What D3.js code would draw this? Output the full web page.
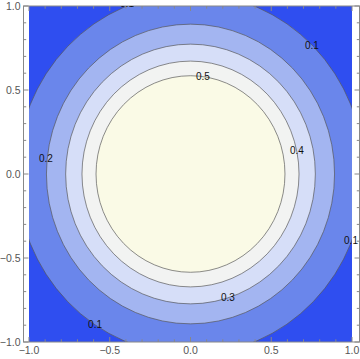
<!DOCTYPE html>
<html>
<head>
<meta charset="utf-8">
<script src="https://cdn.jsdelivr.net/npm/d3@7"></script>
<style>
  body { margin: 0; background: #fff; }
  svg { display: block; }
</style>
</head>
<body>
<div id="chart"></div>
<script>
(function () {
  // contour levels and the radius (data units) where each level sits
  var levels = [0.1, 0.2, 0.3, 0.4, 0.5];
  var radii = [1.075, 0.892, 0.773, 0.672, 0.585];
  // fill colours: below 0.1, then each band up to the top one
  var bandColors = ["#2f4ef0", "#6a86eb", "#a3b5f1", "#d6def8", "#f2f3f2", "#fafae6"];

  // contour labels (level, x, y in data units)
  var labelText = ["0.1", "0.1", "0.5", "0.4", "0.2", "0.1", "0.3", "0.1"];
  var labelX = [-0.393, 0.752, 0.077, 0.659, -0.895, 0.994, 0.232, -0.591];
  var labelY = [1.012, 0.762, 0.583, 0.137, 0.095, -0.393, -0.738, -0.893];

  var majorTicks = [-1.0, -0.5, 0.0, 0.5, 1.0];
  var minorTicks = d3.range(-10, 11).map(function (d) { return d / 10; });

  var w = 360,
      h = 359;

  var x = d3.scaleLinear().domain([-1, 1]).range([29, 352]);
  var y = d3.scaleLinear().domain([-1, 1]).range([342, 6]);

  var frame = { left: 23.5, right: 359.5, top: 6, bottom: 342 };

  var svg = d3.select("#chart")
      .append("svg")
      .attr("width", w)
      .attr("height", h);

  svg.append("clipPath").attr("id", "plotclip")
    .append("rect")
      .attr("x", x(-1)).attr("y", y(1))
      .attr("width", x(1) - x(-1)).attr("height", y(-1) - y(1));

  svg.append("clipPath").attr("id", "frameclip")
    .append("rect")
      .attr("x", frame.left).attr("y", frame.top)
      .attr("width", frame.right - frame.left).attr("height", frame.bottom - frame.top);

  var plot = svg.append("g").attr("clip-path", "url(#plotclip)");

  plot.append("rect")
      .attr("x", x(-1)).attr("y", y(1))
      .attr("width", x(1) - x(-1)).attr("height", y(-1) - y(1))
      .attr("fill", bandColors[0]);

  plot.selectAll("ellipse")
      .data(radii)
      .enter()
      .append("ellipse")
      .attr("cx", x(0))
      .attr("cy", y(0))
      .attr("rx", function(d) { return x(d) - x(0); })
      .attr("ry", function(d) { return y(0) - y(d); })
      .attr("fill", function(d, i) { return bandColors[i + 1]; })
      .attr("stroke", "#555")
      .attr("stroke-opacity", 0.75)
      .attr("stroke-width", 0.9);

  // frame
  svg.append("rect")
      .attr("x", frame.left).attr("y", frame.top)
      .attr("width", frame.right - frame.left).attr("height", frame.bottom - frame.top)
      .attr("fill", "none")
      .attr("stroke", "#888")
      .attr("stroke-width", 1);

  var ticks = svg.append("g").attr("stroke", "#888").attr("stroke-width", 1);

  function len(d) {
    return majorTicks.some(function (m) { return Math.abs(m - d) < 1e-9; }) ? 5 : 2.7;
  }

  // bottom and top
  ticks.selectAll("line.b").data(minorTicks).enter().append("line")
      .attr("x1", function(d) { return x(d); }).attr("x2", function(d) { return x(d); })
      .attr("y1", frame.bottom).attr("y2", function(d) { return frame.bottom - len(d); });
  ticks.selectAll("line.t").data(minorTicks).enter().append("line")
      .attr("x1", function(d) { return x(d); }).attr("x2", function(d) { return x(d); })
      .attr("y1", frame.top).attr("y2", function(d) { return frame.top + len(d); });
  // left and right
  ticks.selectAll("line.l").data(minorTicks).enter().append("line")
      .attr("y1", function(d) { return y(d); }).attr("y2", function(d) { return y(d); })
      .attr("x1", frame.left).attr("x2", function(d) { return frame.left + len(d); });
  ticks.selectAll("line.r").data(minorTicks).enter().append("line")
      .attr("y1", function(d) { return y(d); }).attr("y2", function(d) { return y(d); })
      .attr("x1", frame.right).attr("x2", function(d) { return frame.right - len(d); });

  var fmt = function(d) { return d3.format(".1f")(d).replace("-", "\u2212"); };

  svg.selectAll("text.xt")
      .data(majorTicks)
      .enter()
      .append("text")
      .attr("x", function(d) { return x(d); })
      .attr("y", 354)
      .attr("text-anchor", "middle")
      .attr("font-family", "Liberation Sans, Arial, sans-serif")
      .attr("font-size", "10.5px")
      .attr("fill", "#555")
      .text(fmt);

  svg.selectAll("text.yt")
      .data(majorTicks)
      .enter()
      .append("text")
      .attr("x", 20.5)
      .attr("y", function(d) { return y(d); })
      .attr("dy", "0.35em")
      .attr("text-anchor", "end")
      .attr("font-family", "Liberation Sans, Arial, sans-serif")
      .attr("font-size", "10.5px")
      .attr("fill", "#555")
      .text(fmt);

  // contour labels
  svg.append("g").attr("clip-path", "url(#frameclip)")
    .selectAll("text")
      .data(labelText)
      .enter()
      .append("text")
      .attr("x", function(d, i) { return x(labelX[i]); })
      .attr("y", function(d, i) { return y(labelY[i]); })
      .attr("dy", "0.35em")
      .attr("text-anchor", "middle")
      .attr("font-family", "Liberation Sans, Arial, sans-serif")
      .attr("font-size", "10px")
      .attr("fill", "#111")
      .text(function(d) { return d; });
})();
</script>
</body>
</html>
